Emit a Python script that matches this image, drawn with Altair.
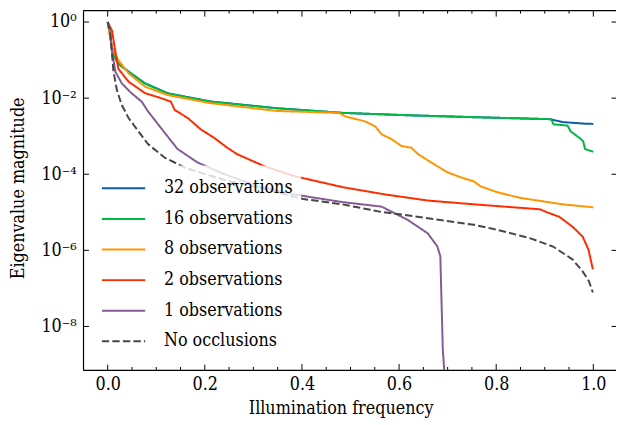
import altair as alt
import pandas as pd

# ---------------- data ----------------
series_labels = ["32 observations", "16 observations", "8 observations",
                 "2 observations", "1 observations", "No occlusions"]
series_colors = ["#0C5DA5", "#00B945", "#FF9500", "#FF2C00", "#845B97", "#474747"]
series_dashes = [[1, 0], [1, 0], [1, 0], [1, 0], [1, 0], [7.5, 3.2]]

x_32 = [0, 0.004, 0.008, 0.016, 0.022, 0.043, 0.077, 0.124, 0.211, 0.348, 0.484,
        0.618, 0.754, 0.911, 0.937, 0.981, 1.0]
y_32 = [1.0, 0.55, 0.23, 0.11, 0.081, 0.05, 0.0245, 0.0134, 8.2e-3, 5.45e-3, 4.1e-3,
        3.55e-3, 3.16e-3, 2.8e-3, 2.35e-3, 2.14e-3, 2.1e-3]

x_16 = [0, 0.004, 0.008, 0.016, 0.022, 0.043, 0.077, 0.124, 0.211, 0.348, 0.484,
        0.618, 0.754, 0.911, 0.914, 0.918, 0.947, 0.953, 0.971, 0.979, 0.983, 1.0]
y_16 = [1.0, 0.54, 0.22, 0.107, 0.079, 0.049, 0.024, 0.0132, 8.1e-3, 5.4e-3, 4.1e-3,
        3.55e-3, 3.16e-3, 2.8e-3, 2.7e-3, 2.05e-3, 1.9e-3, 1.35e-3, 9.1e-4, 7.4e-4,
        4.6e-4, 3.9e-4]

x_8 = [0, 0.004, 0.010, 0.022, 0.043, 0.077, 0.124, 0.211, 0.348, 0.476, 0.490,
       0.530, 0.551, 0.564, 0.585, 0.605, 0.625, 0.639, 0.666, 0.700, 0.727, 0.754,
       0.768, 0.801, 0.849, 0.890, 0.937, 1.0]
y_8 = [1.0, 0.48, 0.195, 0.1, 0.0447, 0.02, 0.012, 7.4e-3, 4.6e-3, 4.1e-3, 3.3e-3,
       2.45e-3, 1.8e-3, 1.12e-3, 8.3e-4, 5.5e-4, 5.0e-4, 3.4e-4, 2.04e-4, 1.12e-4,
       8.3e-5, 6.5e-5, 4.8e-5, 3.4e-5, 2.4e-5, 2.0e-5, 1.62e-5, 1.35e-5]

x_2 = [0, 0.009, 0.016, 0.022, 0.043, 0.077, 0.110, 0.130, 0.138, 0.165, 0.192,
       0.219, 0.246, 0.266, 0.321, 0.382, 0.483, 0.571, 0.659, 0.754, 0.890, 0.903,
       0.930, 0.957, 0.978, 0.990, 0.999]
y_2 = [1.0, 0.59, 0.162, 0.059, 0.027, 0.0135, 0.01, 8.1e-3, 4.9e-3, 3.0e-3, 1.5e-3,
       9.1e-4, 5.0e-4, 3.4e-4, 1.66e-4, 9.1e-5, 4.6e-5, 2.95e-5, 2.04e-5, 1.62e-5,
       1.2e-5, 1.02e-5, 7.6e-6, 4.2e-6, 2.3e-6, 1.05e-6, 3.2e-7]

x_1 = [0, 0.005, 0.009, 0.016, 0.029, 0.049, 0.070, 0.083, 0.104, 0.131, 0.144,
       0.185, 0.239, 0.314, 0.402, 0.483, 0.564, 0.618, 0.659, 0.679, 0.685, 0.690,
       0.693, 0.694]
y_1 = [1.0, 0.65, 0.162, 0.049, 0.0245, 0.0135, 8.1e-3, 4.5e-3, 2.04e-3, 7.4e-4,
       4.6e-4, 2.04e-4, 1.02e-4, 4.6e-5, 2.7e-5, 1.86e-5, 1.41e-5, 6.3e-6, 2.8e-6,
       1.26e-6, 6.9e-7, 2.6e-9, 7.1e-10, 3e-11]

x_none = [0, 0.005, 0.009, 0.012, 0.019, 0.029, 0.043, 0.063, 0.083, 0.117, 0.158,
          0.199, 0.246, 0.321, 0.402, 0.483, 0.564, 0.612, 0.754, 0.801, 0.869,
          0.917, 0.957, 0.978, 0.991, 0.999]
y_none = [1.0, 0.54, 0.135, 0.049, 0.0162, 6.6e-3, 3.0e-3, 1.35e-3, 6.2e-4, 2.75e-4,
          1.51e-4, 1.02e-4, 6.8e-5, 4.2e-5, 2.24e-5, 1.62e-5, 1.02e-5, 8.5e-6, 4.7e-6,
          3.5e-6, 2.1e-6, 1.26e-6, 5.8e-7, 2.8e-7, 1.55e-7, 7.8e-8]

x_major = [0.0, 0.2, 0.4, 0.6, 0.8, 1.0]
x_minor = [0.05, 0.1, 0.15, 0.25, 0.3, 0.35, 0.45, 0.5, 0.55, 0.65, 0.7, 0.75,
           0.85, 0.9, 0.95]
y_major = [1.0, 1e-2, 1e-4, 1e-6, 1e-8]
y_exponents = [0, -2, -4, -6, -8]
y_labels = ["10\u2070", "10\u207b\u00b2", "10\u207b\u2074", "10\u207b\u2076", "10\u207b\u2078"]

x_domain = [-0.0508, 1.0467]
y_domain = [7.2e-10, 1.988]

# ---------------- build table ----------------
xs_all = [x_32, x_16, x_8, x_2, x_1, x_none]
ys_all = [y_32, y_16, y_8, y_2, y_1, y_none]
rows = []
for lab, xs, ys in zip(series_labels, xs_all, ys_all):
    for i, (a, b) in enumerate(zip(xs, ys)):
        rows.append({"series": lab, "x": a, "y": b, "idx": i})
df = pd.DataFrame(rows)

W, H = 540, 364
FONT = "DejaVu Serif Condensed, DejaVu Serif"
FS = 18

xscale = alt.Scale(domain=x_domain, nice=False, zero=False)
yscale = alt.Scale(type="log", domain=y_domain, nice=False)

label_expr = ""
for e, l in zip(y_exponents, y_labels):
    label_expr += f"round(log(datum.value)/LN10) == {e} ? '{l}' : "
label_expr += "''"

xaxis = alt.Axis(values=x_major, format=".1f", grid=False, ticks=False, tickSize=0,
                 labelFont=FONT, labelFontSize=FS, labelColor="black", labelPadding=6,
                 domain=True, domainColor="black", domainWidth=1.2,
                 title="Illumination frequency", titleFont=FONT, titleFontSize=FS,
                 titleFontWeight="normal", titleColor="black",
                 titleX=261, titleY=39, titleAlign="center", titleBaseline="middle")
yaxis = alt.Axis(values=y_major, labelExpr=label_expr, grid=False, ticks=False, tickSize=0,
                 labelFont=FONT, labelFontSize=FS, labelColor="black", labelPadding=7,
                 labelBaseline="middle",
                 domain=True, domainColor="black", domainWidth=1.2,
                 title="Eigenvalue magnitude", titleFont=FONT, titleFontSize=FS,
                 titleFontWeight="normal", titleColor="black",
                 titleX=-65, titleY=179.5, titleAngle=270, titleAlign="center",
                 titleBaseline="middle")

legend = alt.Legend(title=None, orient="none", legendX=11, legendY=156.8,
                    direction="vertical",
                    symbolType="M-2,0H2", symbolSize=484, symbolStrokeWidth=2,
                    symbolOffset=10, labelOffset=29, clipHeight=30.4, rowPadding=0,
                    labelFont=FONT, labelFontSize=FS, labelColor="black", labelLimit=400,
                    padding=8, fillColor="rgba(255,255,255,0.8)")

lines = alt.Chart(df).mark_line(strokeWidth=2, clip=True).encode(
    x=alt.X("x:Q", scale=xscale, axis=xaxis),
    y=alt.Y("y:Q", scale=yscale, axis=yaxis),
    color=alt.Color("series:N", sort=series_labels,
                    scale=alt.Scale(domain=series_labels, range=series_colors),
                    legend=legend),
    strokeDash=alt.StrokeDash("series:N", sort=series_labels,
                              scale=alt.Scale(domain=series_labels, range=series_dashes),
                              legend=legend),
    order=alt.Order("idx:Q"),
)

dfx_major = pd.DataFrame({"x": x_major})
dfx_minor = pd.DataFrame({"x": x_minor})
dfy_major = pd.DataFrame({"y": y_major})


def xticks(d, y0, y1):
    return alt.Chart(d).mark_rule(color="black", strokeWidth=1).encode(
        x=alt.X("x:Q", scale=xscale, axis=xaxis),
        y=alt.value(y0), y2=alt.value(y1))


def yticks(x0, x1):
    return alt.Chart(dfy_major).mark_rule(color="black", strokeWidth=1).encode(
        y=alt.Y("y:Q", scale=yscale, axis=yaxis),
        x=alt.value(x0), x2=alt.value(x1))


top_spine = alt.Chart(pd.DataFrame({"x": [x_major[0]]})).mark_rule(
    color="black", strokeWidth=1.2).encode(
    x=alt.value(0), x2=alt.value(W), y=alt.value(0))

chart = alt.layer(
    lines,
    xticks(dfx_major, H, H - 6), xticks(dfx_major, 0, 6),
    xticks(dfx_minor, H, H - 3), xticks(dfx_minor, 0, 3),
    yticks(0, 6), yticks(W - 4.5, W),
    top_spine,
).properties(
    width=W, height=H,
    padding={"left": 76, "top": 0, "right": 0, "bottom": 48},
    autosize=alt.AutoSizeParams(type="none"),
).configure_view(
    stroke="transparent"
)

chart.save("out.html", embed_options={"renderer": "svg", "actions": False})
